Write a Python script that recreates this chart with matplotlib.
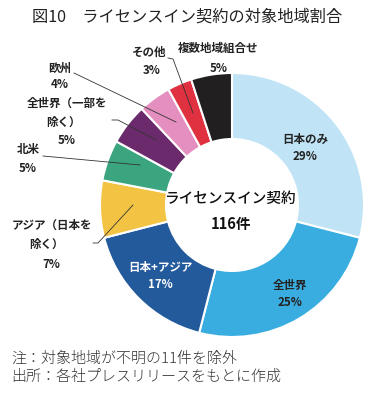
import matplotlib
matplotlib.use("Agg")
import matplotlib.pyplot as plt

plt.rcParams['font.family'] = ['Noto Sans CJK JP', 'DejaVu Sans']

categories = ["日本のみ", "全世界", "日本+アジア", "アジア（日本を\n除く）", "北米",
              "全世界（一部を\n除く）", "欧州", "その他", "複数地域組合せ"]
shares = [29, 25, 17, 7, 5, 5, 4, 3, 5]
colors = ["#c0e4f6", "#3aade0", "#225a9c", "#f3c443", "#3ba57f",
          "#6a2a6c", "#e48fc0", "#df3140", "#221f20"]
total_count = 116
title = "図10　ライセンスイン契約の対象地域割合"
notes = ["注：対象地域が不明の11件を除外", "出所：各社プレスリリースをもとに作成"]

W, H = 375, 399
fig = plt.figure(figsize=(W / 100, H / 100), dpi=100)
ax = fig.add_axes([0, 0, 1, 1])

def Y(y):
    return H - y

cx, cy, R = 232, 205, 132
ax.pie(shares, colors=colors, startangle=90, counterclock=False,
       radius=R, center=(cx, Y(cy)),
       wedgeprops=dict(width=R * 0.5, edgecolor="white", linewidth=1.5))
ax.set_xlim(0, W)
ax.set_ylim(0, H)
ax.set_aspect("equal")
ax.axis("off")

fs = 8.3
def lab(x, y, s, color="#222222", size=fs):
    ax.text(x, Y(y), s, ha="center", va="center", fontsize=size,
            fontweight="bold", color=color)

# Inside labels
lab(305, 139, categories[0]); lab(305, 156, f"{shares[0]}%")
lab(290, 285, categories[1]); lab(290, 302, f"{shares[1]}%")
lab(160, 267, categories[2], color="white"); lab(160, 284, f"{shares[2]}%", color="white")

# Outside labels
lab(52, 225, "アジア（日本を"); lab(46, 244, "除く）"); lab(51, 264, f"{shares[3]}%")
lab(28, 150, categories[4]); lab(28, 168, f"{shares[4]}%")
lab(67, 103, "全世界（一部を"); lab(63, 122, "除く）"); lab(67, 141, f"{shares[5]}%")
lab(60, 68, categories[6]); lab(60, 85, f"{shares[6]}%")
lab(149, 52, categories[7]); lab(152, 70, f"{shares[7]}%")
lab(218, 48, categories[8]); lab(219, 68, f"{shares[8]}%")

lc = "#333333"
def line(pts):
    xs = [p[0] for p in pts]; ys = [Y(p[1]) for p in pts]
    ax.plot(xs, ys, color=lc, lw=0.6)

line([(93, 243), (98, 243), (133, 205)])
line([(43, 156), (140, 165)])
line([(112, 120), (118, 120), (156, 140)])
line([(74, 73), (176, 122)])
line([(168, 58), (173, 59), (193, 113)])

# Center text
ax.text(cx - 1, Y(199), "ライセンスイン契約", ha="center", va="center",
        fontsize=10.5, fontweight="medium", color="#111111")
ax.text(cx - 1, Y(224), f"{total_count}件", ha="center", va="center",
        fontsize=10.5, fontweight="bold", color="#111111")

# Title
ax.text(187, Y(17), title, ha="center", va="center", fontsize=11.7, color="#222222")

# Notes
ax.text(11, Y(359), notes[0], ha="left", va="center", fontsize=10.8,
        fontweight="light", color="#333333")
ax.text(11, Y(377), notes[1], ha="left", va="center", fontsize=10.8,
        fontweight="light", color="#333333")

fig.savefig("out.png", dpi=100)
